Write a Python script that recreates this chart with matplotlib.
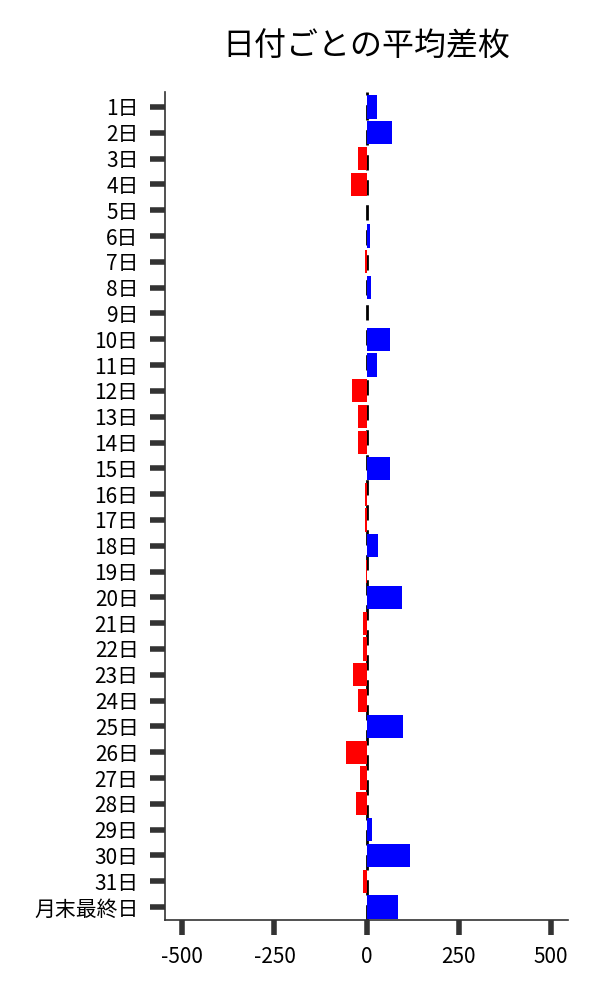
import matplotlib
matplotlib.use("Agg")
import matplotlib.pyplot as plt

plt.rcParams['font.family'] = ['Noto Sans CJK JP', 'DejaVu Sans']
plt.rcParams['axes.unicode_minus'] = False

days = [f"{i}日" for i in range(1, 32)] + ["月末最終日"]
diff = [27, 68, -23, -43, 0, 9, -3, 11, 0, 63, 27,
        -40, -24, -24, 63, -4, -3, 30, -2, 95, -10,
        -10, -37, -24, 98, -56, -18, -29, 16, 118, -10, 85]
colors = ["blue" if v > 0 else "red" for v in diff]

fig = plt.figure(figsize=(6, 10), dpi=100)
ax = fig.add_axes([0.275, 0.08, 0.672, 0.828])

ax.axvline(0, color="black", linestyle=(0, (5.5, 3.5)), linewidth=2, zorder=1)
ax.barh(range(len(days)), diff, color=colors, height=0.9, zorder=2)

ax.set_yticks(range(len(days)))
ax.set_yticklabels(days)
ax.set_ylim(len(days) - 0.5, -0.58)
ax.set_xlim(-547, 547)
ax.set_xticks([-500, -250, 0, 250, 500])

for s in ["top", "right"]:
    ax.spines[s].set_visible(False)
for s in ["left", "bottom"]:
    ax.spines[s].set_color("#333333")
    ax.spines[s].set_linewidth(1.2)

ax.tick_params(axis="both", length=11, width=4, color="#333333",
               labelsize=15, pad=8)

ax.set_title("日付ごとの平均差枚", fontsize=23, pad=26)

fig.savefig("out.png")
